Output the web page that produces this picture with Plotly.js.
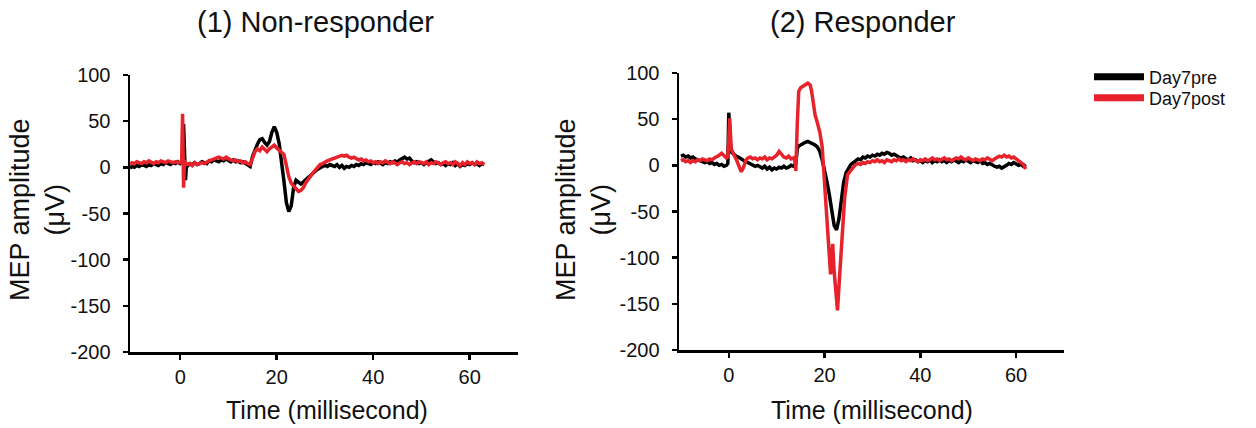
<!DOCTYPE html>
<html>
<head>
<meta charset="utf-8">
<script src="https://cdn.plot.ly/plotly-3.0.1.min.js"></script>
<style>html,body{margin:0;padding:0;background:#fff;}#chart{width:1256px;height:428px;}</style>
</head>
<body>
<div id="chart"></div>
<script>
// ---------- DATA ----------
const seriesNames = ["Day7pre", "Day7post"];
const panelTitles = ["(1) Non-responder", "(2) Responder"];
const xTickVals = [0, 20, 40, 60];
const xTickText = ["0", "20", "40", "60"];
const yTickVals = [-200, -150, -100, -50, 0, 50, 100];
const yTickText = ["-200", "-150", "-100", "-50", "0", "50", "100"];

// Panel 1 (Non-responder) time (ms), shared by both series
const tPanel1 = [-10.4,-10,-9.5,-9,-8.5,-8,-7.5,-7,-6.5,-6,-5.5,-5,-4.5,-4,-3.5,-3,-2.5,-2,-1.5,-1,-0.5,0,
  0.3,0.5,0.7,0.9,1.1,1.3,
  1.6,2,2.5,3,3.5,4,4.5,5,5.5,6,6.5,7,7.5,8,8.5,9,9.5,10,10.5,11,11.5,12,12.5,13,13.5,14,14.5,
  15,15.5,16,16.5,17,17.5,18,18.5,19,19.5,20,20.5,21,21.5,22,22.5,23,23.5,24,24.5,25,25.5,26,26.5,27,27.5,28,28.5,29,29.5,30,
  30.5,31,31.5,32,32.5,33,33.5,34,34.5,35,35.5,36,36.5,37,37.5,38,38.5,39,39.5,40,40.5,41,41.5,42,42.5,43,43.5,44,44.5,45,
  45.5,46,46.5,47,47.5,48,48.5,49,49.5,50,50.5,51,51.5,52,52.5,53,53.5,54,54.5,55,55.5,56,56.5,57,57.5,58,58.5,59,59.5,60,
  60.5,61,61.5,62,62.5,63];
const pre1 = [-1,1,0,2,1,3,2,1,3,2,4,3,2,4,3,5,4,3,5,4,6,4,
  5,4,47,10,-14,3,
  2,4,3,5,3,4,6,5,4,7,6,8,7,6,8,7,9,7,6,8,6,7,5,6,4,2,1,
  12,20,25,30,31,27,24,28,38,44,38,26,8,-15,-38,-48,-42,-22,-14,-16,-18,-16,-13,-11,-9,-6,-4,-2,0,1,2,
  1,3,2,1,3,0,2,-1,1,0,2,1,3,2,4,3,5,4,3,5,4,6,5,3,5,4,6,5,7,6,
  8,10,11,9,10,7,5,6,4,5,3,5,6,8,6,4,5,3,4,2,4,3,5,2,4,1,3,2,4,3,
  5,3,4,2,4,3];
const post1 = [3,5,4,6,5,4,6,5,7,5,4,6,5,7,6,5,7,6,5,6,5,5,
  6,58,-22,8,2,4,
  3,4,2,5,3,4,5,4,6,7,8,9,10,11,10,9,11,9,8,7,8,6,7,5,6,4,3,
  10,17,20,18,22,20,17,20,22,24,21,19,17,14,2,-10,-17,-20,-24,-26,-25,-22,-17,-13,-9,-6,-3,0,3,4,5,
  7,8,9,10,11,12,13,12,13,11,10,11,9,8,9,7,8,6,7,5,6,4,6,5,7,5,4,6,5,3,
  5,6,4,5,3,5,6,4,6,5,4,6,3,5,4,6,5,3,5,6,4,5,3,6,4,2,5,3,6,4,
  5,3,6,4,5,3];

// Panel 2 (Responder)
const tPre2 = [-10,-9.5,-9,-8.5,-8,-7.5,-7,-6.5,-6,-5.5,-5,-4.5,-4,-3.5,-3,-2.5,-2,-1.5,-1,-0.5,
  -0.2,0,0.3,0.6,1,
  1.5,2,2.5,3,3.5,4,4.5,5,5.5,6,6.5,7,7.5,8,8.5,9,9.5,10,10.5,11,11.5,12,12.5,13,13.5,14,
  14.3,14.6,15,15.5,16,16.5,17,17.5,18,18.5,19,19.5,20,20.5,21,21.5,22,22.5,23,23.5,24,24.5,25,25.5,26,
  26.5,27,27.5,28,28.5,29,29.5,30,30.5,31,31.5,32,32.5,33,33.5,34,34.5,35,35.5,36,36.5,37,37.5,38,38.5,39,39.5,40,40.5,41,
  41.5,42,42.5,43,43.5,44,44.5,45,45.5,46,46.5,47,47.5,48,48.5,49,49.5,50,50.5,51,51.5,52,52.5,53,53.5,54,54.5,55,55.5,56,
  56.5,57,57.5,58,58.5,59,59.5,60,60.5,61,61.5,62];
const pre2 = [10,11,9,10,8,9,7,6,5,4,3,4,2,3,1,2,0,1,-1,0,
  2,57,25,14,12,
  10,9,7,6,4,3,2,1,-1,0,-2,-3,-1,-4,-2,-5,-3,-4,-2,-3,-1,-3,-2,0,-1,2,
  18,21,22,24,25,26,25,24,22,20,15,6,-5,-18,-32,-50,-65,-70,-58,-38,-18,-8,-3,1,3,
  5,7,6,9,8,10,9,11,10,12,11,13,12,14,13,11,12,10,9,8,9,7,6,8,5,6,4,5,3,5,
  4,6,3,5,4,6,4,5,3,5,4,6,5,3,5,4,6,4,3,5,4,3,5,2,3,1,2,0,-1,-2,
  -1,-3,-2,0,2,1,3,2,0,1,-1,1];
const tPost2 = [-10,-9.5,-9,-8.5,-8,-7.5,-7,-6.5,-6,-5.5,-5,-4.5,-4,-3.5,-3,-2.5,-2,-1.5,-1,-0.5,
  -0.2,0.2,0.5,0.8,1.2,
  1.6,2.1,2.6,3.1,3.5,4,4.5,5,5.5,6,6.5,7,7.5,8,8.5,9,9.5,10,10.5,11,11.5,12,12.5,13,13.5,
  13.8,14,14.3,14.6,15,15.5,16,16.5,17,17.3,17.7,18,18.5,19,19.5,19.8,20.3,20.8,21.25,21.5,21.7,22,22.4,22.7,23.2,23.7,24.2,24.8,25.3,25.8,26.3,
  27,27.5,28,28.5,29,29.5,30,30.5,31,31.5,32,32.5,33,33.5,34,34.5,35,35.5,36,36.5,37,37.5,38,38.5,39,39.5,40,40.5,41,41.5,
  42,42.5,43,43.5,44,44.5,45,45.5,46,46.5,47,47.5,48,48.5,49,49.5,50,50.5,51,51.5,52,52.5,53,53.5,54,54.5,55,55.5,56,56.5,
  57,57.5,58,58.5,59,59.5,60,60.5,61,61.5,62];
const post2 = [5,6,4,5,3,5,4,6,5,7,6,5,7,6,8,9,11,13,10,8,
  9,51,18,14,10,
  6,-2,-7,-2,5,8,9,7,8,6,8,7,9,6,8,7,9,11,15,12,9,8,10,7,8,
  5,-6,45,80,84,86,88,89,87,80,66,55,46,36,20,-5,-35,-75,-118,-100,-85,-115,-140,-157,-115,-70,-35,-10,-7,-3,0,
  2,1,3,2,4,3,5,4,6,4,5,3,6,5,4,6,5,7,5,6,4,6,5,7,6,4,6,5,7,5,
  6,8,6,7,5,7,8,6,7,5,6,8,7,9,7,6,8,7,5,7,6,5,7,6,8,7,5,7,8,10,
  9,11,9,10,8,9,7,5,3,1,-4];

// ---------- STYLE ----------
const BLACK = "#000000";
const RED = "#e8222b";
const FONT = "Liberation Sans, Arial, Helvetica, sans-serif";
const TXT = "#111";
const W = 1256, H = 428;
const px = v => v / W;
const py = v => 1 - v / H;

const traces = [
  {x: tPanel1, y: pre1, xaxis: "x", yaxis: "y", mode: "lines", line: {color: BLACK, width: 3.5}, name: seriesNames[0], showlegend: false, legendgroup: "pre"},
  {x: tPanel1, y: post1, xaxis: "x", yaxis: "y", mode: "lines", line: {color: RED, width: 3.5}, name: seriesNames[1], showlegend: false, legendgroup: "post"},
  {x: tPre2, y: pre2, xaxis: "x2", yaxis: "y2", mode: "lines", line: {color: BLACK, width: 3.5}, name: seriesNames[0], showlegend: false, legendgroup: "pre"},
  {x: tPost2, y: post2, xaxis: "x2", yaxis: "y2", mode: "lines", line: {color: RED, width: 3.5}, name: seriesNames[1], showlegend: false, legendgroup: "post"},
  // legend entries (thicker sample lines), one per legend box so rows sit close together
  {x: [null], y: [null], xaxis: "x2", yaxis: "y2", mode: "lines", line: {color: BLACK, width: 7}, name: seriesNames[0], legendgroup: "pre", legend: "legend"},
  {x: [null], y: [null], xaxis: "x2", yaxis: "y2", mode: "lines", line: {color: RED, width: 7}, name: seriesNames[1], legendgroup: "post", legend: "legend2"}
];

const xRange = [-10.4, 70];
const yRange = [-200, 100];

function xAxis(domain, anchor) {
  return {
    domain: domain, anchor: anchor, range: xRange, tickvals: xTickVals, ticktext: xTickText,
    showgrid: false, zeroline: false, showline: true, linecolor: "#000", linewidth: 2.5,
    ticks: "outside", ticklen: 5, tickwidth: 2.5, tickcolor: "#000",
    ticklabelstandoff: 0,
    tickfont: {family: FONT, size: 20, color: TXT}
  };
}
function yAxis(domain, anchor) {
  return {
    domain: domain, anchor: anchor, range: yRange, tickvals: yTickVals, ticktext: yTickText,
    showgrid: false, zeroline: false, showline: true, linecolor: "#000", linewidth: 2.5,
    ticks: "outside", ticklen: 5, tickwidth: 2.5, tickcolor: "#000",
    ticklabelstandoff: 8,
    tickfont: {family: FONT, size: 20, color: TXT}
  };
}

const legendBase = {xanchor: "left", yanchor: "middle", font: {family: FONT, size: 18, color: TXT},
                    itemwidth: 50, tracegroupgap: 0, bgcolor: "rgba(0,0,0,0)", borderwidth: 0};

const layout = {
  width: W, height: H,
  margin: {l: 0, r: 0, t: 0, b: 0},
  paper_bgcolor: "#fff", plot_bgcolor: "#fff",
  showlegend: true,
  legend: Object.assign({}, legendBase, {x: px(1089), y: py(77)}),
  legend2: Object.assign({}, legendBase, {x: px(1089), y: py(98)}),
  xaxis: xAxis([px(130), px(518)], "y"),
  yaxis: yAxis([py(352), py(75)], "x"),
  xaxis2: xAxis([px(679), px(1064)], "y2"),
  yaxis2: yAxis([py(350), py(73)], "x2"),
  annotations: [
    {text: panelTitles[0], xref: "paper", yref: "paper", x: px(315), y: py(22), xanchor: "center", yanchor: "middle", showarrow: false, font: {family: FONT, size: 29, color: TXT}},
    {text: panelTitles[1], xref: "paper", yref: "paper", x: px(863), y: py(22), xanchor: "center", yanchor: "middle", showarrow: false, font: {family: FONT, size: 29, color: TXT}},
    {text: "Time (millisecond)", xref: "paper", yref: "paper", x: px(327), y: py(410), xanchor: "center", yanchor: "middle", showarrow: false, font: {family: FONT, size: 25, color: TXT}},
    {text: "Time (millisecond)", xref: "paper", yref: "paper", x: px(872), y: py(410), xanchor: "center", yanchor: "middle", showarrow: false, font: {family: FONT, size: 25, color: TXT}},
    {text: "MEP amplitude<br>(μV)", xref: "paper", yref: "paper", x: px(37), y: py(210), xanchor: "center", yanchor: "middle", textangle: -90, showarrow: false, font: {family: FONT, size: 27, color: TXT}},
    {text: "MEP amplitude<br>(μV)", xref: "paper", yref: "paper", x: px(583), y: py(210), xanchor: "center", yanchor: "middle", textangle: -90, showarrow: false, font: {family: FONT, size: 27, color: TXT}}
  ]
};

Plotly.newPlot("chart", traces, layout, {displayModeBar: false, staticPlot: true});
</script>
</body>
</html>
